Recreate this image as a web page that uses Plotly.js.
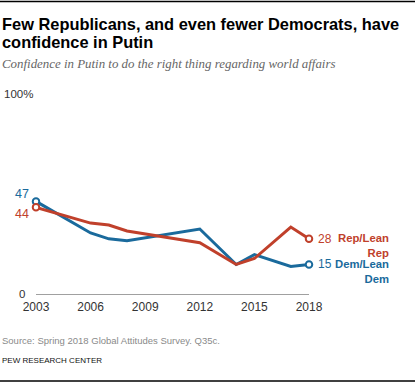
<!DOCTYPE html>
<html>
<head>
<meta charset="utf-8">
<script src="https://cdn.plot.ly/plotly-3.0.1.min.js"></script>
<style>html,body{margin:0;padding:0;background:#fff;}#chart{width:415px;height:385px;}</style>
</head>
<body>
<div id="chart"></div>
<script>
// ---- data ----
var years = [2003, 2006, 2007, 2008, 2012, 2014, 2015, 2017, 2018];
var repValues = [44, 36, 35, 32, 26, 15, 18, 34, 28];
var demValues = [47, 31, 28, 27, 33, 15, 20, 14, 15];
var seriesNames = ['Rep/Lean<br>Rep', 'Dem/Lean<br>Dem'];
var xTickYears = [2003, 2006, 2009, 2012, 2015, 2018];
var yTickLabels = ['0', '100%'];
var titleLines = ['Few Republicans, and even fewer Democrats, have', 'confidence in Putin'];
var subtitle = 'Confidence in Putin to do the right thing regarding world affairs';
var sourceText = 'Source: Spring 2018 Global Attitudes Survey. Q35c.';
var creditText = 'PEW RESEARCH CENTER';

// ---- styles ----
var RED = '#c0402b', BLUE = '#1a6a9c';
var SANS = '"Liberation Sans", Arial, sans-serif';
var SERIF = '"Liberation Serif", "Times New Roman", serif';
var M = {l: 36, r: 106, t: 97, b: 91};
var W = 415, H = 385, PW = W - M.l - M.r, PH = H - M.t - M.b;
function PX(px) { return (px - M.l) / PW; }
function PY(py) { return (H - M.b - py) / PH; }

var last = years.length - 1;
function lineTrace(vals, color) {
  return {x: years, y: vals, type: 'scatter', mode: 'lines',
    line: {color: color, width: 3}, hoverinfo: 'skip', cliponaxis: false};
}
function endTrace(vals, color) {
  return {x: [years[0], years[last]], y: [vals[0], vals[last]], type: 'scatter', mode: 'markers',
    marker: {symbol: 'circle', size: 6.5, color: '#fff', line: {color: color, width: 2}},
    hoverinfo: 'skip', cliponaxis: false};
}
var data = [lineTrace(demValues, BLUE), lineTrace(repValues, RED), endTrace(demValues, BLUE), endTrace(repValues, RED)];

var ann = [];
// title
ann.push({xref: 'paper', yref: 'paper', x: PX(0), y: PY(23.5), xanchor: 'left', yanchor: 'middle', showarrow: false,
  text: '<b>' + titleLines[0] + '</b>', font: {family: SANS, size: 16.4, color: '#000'}});
ann.push({xref: 'paper', yref: 'paper', x: PX(0), y: PY(41.5), xanchor: 'left', yanchor: 'middle', showarrow: false,
  text: '<b>' + titleLines[1] + '</b>', font: {family: SANS, size: 16.4, color: '#000'}});
ann.push({xref: 'paper', yref: 'paper', x: PX(0), y: PY(64.5), xanchor: 'left', yanchor: 'middle', showarrow: false,
  text: '<i>' + subtitle + '</i>', font: {family: SERIF, size: 12.9, color: '#666'}});
// y labels
ann.push({xref: 'paper', yref: 'paper', x: PX(2), y: PY(94), xanchor: 'left', yanchor: 'middle', showarrow: false,
  text: yTickLabels[1], font: {family: SANS, size: 11.5, color: '#333'}});
ann.push({xref: 'paper', yref: 'paper', x: PX(27), y: PY(294), xanchor: 'right', yanchor: 'middle', showarrow: false,
  text: yTickLabels[0], font: {family: SANS, size: 11.5, color: '#333'}});
// start values
ann.push({x: years[0], y: demValues[0], xanchor: 'right', yanchor: 'middle', xshift: -5, yshift: 7, showarrow: false,
  text: String(demValues[0]), font: {family: SANS, size: 12.5, color: BLUE}});
ann.push({x: years[0], y: repValues[0], xanchor: 'right', yanchor: 'middle', xshift: -5, yshift: -7, showarrow: false,
  text: String(repValues[0]), font: {family: SANS, size: 12.5, color: RED}});
// end values
ann.push({x: years[last], y: repValues[last], xanchor: 'left', yanchor: 'middle', xshift: 7, showarrow: false,
  text: String(repValues[last]), font: {family: SANS, size: 12, color: RED}});
ann.push({x: years[last], y: demValues[last], xanchor: 'left', yanchor: 'middle', xshift: 7, showarrow: false,
  text: String(demValues[last]), font: {family: SANS, size: 12, color: BLUE}});
// series names
ann.push({x: years[last], y: repValues[last], xanchor: 'right', yanchor: 'middle', xshift: 82, yshift: -6.5, align: 'right', showarrow: false,
  text: '<b>' + seriesNames[0] + '</b>', font: {family: SANS, size: 11.3, color: RED}});
ann.push({x: years[last], y: demValues[last], xanchor: 'right', yanchor: 'middle', xshift: 82, yshift: -7, align: 'right', showarrow: false,
  text: '<b>' + seriesNames[1] + '</b>', font: {family: SANS, size: 11.3, color: BLUE}});
// footer
ann.push({xref: 'paper', yref: 'paper', x: PX(0), y: PY(340), xanchor: 'left', yanchor: 'middle', showarrow: false,
  text: sourceText, font: {family: SANS, size: 9.5, color: '#8a8a8a'}});
ann.push({xref: 'paper', yref: 'paper', x: PX(0), y: PY(360), xanchor: 'left', yanchor: 'middle', showarrow: false,
  text: creditText, font: {family: SANS, size: 8, color: '#111'}});

var shapes = [
  {type: 'line', xref: 'paper', yref: 'paper', x0: PX(0), x1: PX(W), y0: PY(1.5), y1: PY(1.5), line: {color: '#000', width: 1.5}},
  {type: 'line', xref: 'paper', yref: 'paper', x0: PX(0), x1: PX(W), y0: PY(381), y1: PY(381), line: {color: '#000', width: 1.5}}
];

var layout = {
  width: W, height: H, margin: M, showlegend: false,
  paper_bgcolor: '#fff', plot_bgcolor: '#fff',
  xaxis: {range: [2003, 2018], tickvals: xTickYears, ticktext: xTickYears.map(String), showgrid: false, zeroline: false,
    showline: true, linecolor: '#a0a0a0', linewidth: 1, ticks: '', ticklabelstandoff: 2,
    tickfont: {family: SANS, size: 12, color: '#333'}, fixedrange: true},
  yaxis: {range: [0, 100], showgrid: false, zeroline: false, showline: false, showticklabels: false, ticks: '', fixedrange: true},
  annotations: ann, shapes: shapes
};
Plotly.newPlot('chart', data, layout, {staticPlot: true, displayModeBar: false});
</script>
</body>
</html>
